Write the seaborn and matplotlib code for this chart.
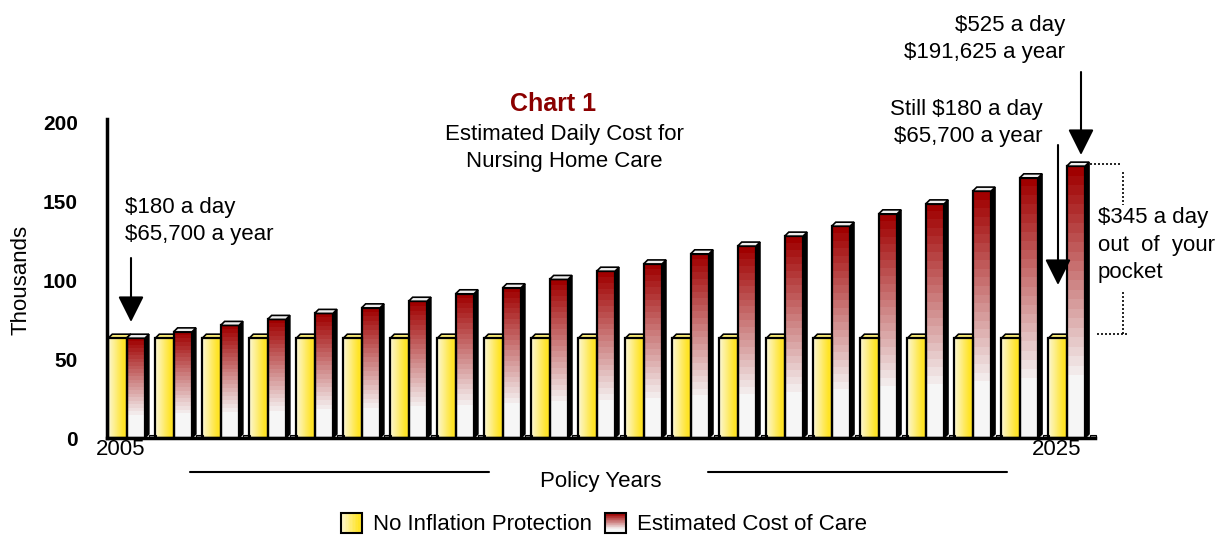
import numpy as np
import pandas as pd
import matplotlib
matplotlib.use("Agg")
import matplotlib.pyplot as plt
import matplotlib.transforms as mtransforms
import seaborn as sns
from matplotlib.patches import Polygon, Rectangle, Patch
from matplotlib.lines import Line2D
from matplotlib.legend_handler import HandlerBase

# data (thousands of dollars per year)
years = [str(y) for y in range(2005, 2026)]
no_inflation = [65.7, 65.7, 65.7, 65.7, 65.7, 65.7, 65.7, 65.7, 65.7, 65.7, 65.7,
                65.7, 65.7, 65.7, 65.7, 65.7, 65.7, 65.7, 65.7, 65.7, 65.7]
cost_of_care = [65.7, 69.7, 73.8, 77.6, 81.4, 84.9, 89.1, 93.8, 97.6, 102.9, 108.1,
                112.7, 119.1, 124.0, 130.3, 136.6, 144.4, 150.7, 158.8, 167.2, 174.6]
series_names = ["No Inflation Protection", "Estimated Cost of Care"]
y_ticks = [0, 50, 100, 150, 200]

df = pd.DataFrame({
    "year": years * 2,
    "value": no_inflation + cost_of_care,
    "series": [series_names[0]] * len(years) + [series_names[1]] * len(years),
})

sns.set_theme(style="white")
plt.rcParams["font.family"] = ["Liberation Sans", "DejaVu Sans"]
plt.rcParams["text.color"] = "black"
plt.rcParams["axes.labelcolor"] = "black"
plt.rcParams["ytick.color"] = "black"

FS = 16
W, H = 1223, 538
fig = plt.figure(figsize=(W / 100, H / 100), dpi=100)
ax = fig.add_axes([107 / W, 1 - 438 / H, 988 / W, 319 / H])

sns.barplot(data=df, x="year", y="value", hue="series", hue_order=series_names,
            palette=["#ffe633", "#a00000"], width=0.78, saturation=1, errorbar=None,
            edgecolor="black", linewidth=1.6, legend=False, ax=ax)

xlim = (-0.417, 20.6)
ylim = (0, 201.9)
ax.set_xlim(*xlim)
ax.set_ylim(*ylim)

# 3d offsets in data units
dx = 4 * (xlim[1] - xlim[0]) / 988
dy = 4 * (ylim[1] - ylim[0]) / 319

# gradients
n_rows = 200
red_top = np.array([160, 0, 0]) / 255
red_bot = np.array([246, 246, 246]) / 255
t = np.arange(n_rows) / n_rows
band = np.minimum(np.floor(t / 0.77 * 22) / 22, 1.0)
red_grad = (red_top + (red_bot - red_top) * band[:, None])[:, None, :]

n_cols = 60
yel_left = np.array([252, 247, 214]) / 255
yel_right = np.array([255, 228, 40]) / 255
s = np.minimum(np.arange(n_cols) / (n_cols * 0.8), 1.0)
yel_grad = (yel_left + (yel_right - yel_left) * s[:, None])[None, :, :]

styles = [(yel_grad, "#fff07a", 1.5), (red_grad, "#eeeeee", 3.5)]
for cont, (grad, top_col, z) in zip(ax.containers, styles):
    for p in cont.patches:
        x0, w, h = p.get_x(), p.get_width(), p.get_height()
        hf = h - dy
        p.set_height(hf)
        p.set_facecolor("none")
        p.set_zorder(3)
        im = ax.imshow(grad, extent=(x0, x0 + w, 0, hf), aspect="auto",
                       interpolation="nearest", zorder=2)
        im.set_clip_path(p)
        x1 = x0 + w
        ax.add_patch(Polygon([(x1, 0), (x1 + dx, dy), (x1 + dx, hf + dy), (x1, hf)],
                             closed=True, facecolor="black", edgecolor="black",
                             lw=1.0, zorder=z))
        ax.add_patch(Polygon([(x0, hf), (x0 + dx, hf + dy), (x1 + dx, hf + dy), (x1, hf)],
                             closed=True, facecolor=top_col, edgecolor="black",
                             lw=1.2, zorder=z + 0.2))

# small floor blocks between the groups
for p in ax.containers[1].patches:
    x1 = p.get_x() + p.get_width()
    ax.add_patch(Rectangle((x1 + dx + 0.01, 0), 0.14, 1.6, facecolor="#8c8c8c",
                           edgecolor="black", lw=0.8, zorder=2.5, clip_on=False))

ax.set_xlim(*xlim)
ax.set_ylim(*ylim)
ax.set_xticks([])
ax.set_xlabel("")
ax.set_yticks(y_ticks)
ax.tick_params(axis="y", length=0, pad=21, labelsize=15)
for lab in ax.get_yticklabels():
    lab.set_fontweight("bold")
ax.set_ylabel("Thousands", fontsize=FS)
ax.yaxis.set_label_coords(-0.076, 0.495)
for side in ["top", "right"]:
    ax.spines[side].set_visible(False)
for side in ["left", "bottom"]:
    ax.spines[side].set_linewidth(2.5)
    ax.spines[side].set_color("black")


def fx(x):
    return x / W


def fy(y):
    return 1 - y / H


LS = 1.38

# x axis texts
fig.text(fx(121), fy(455), "2005", ha="center", va="baseline", fontsize=FS)
fig.text(fx(1057), fy(455), "2025", ha="center", va="baseline", fontsize=FS)
fig.text(fx(601), fy(481), "Policy Years", ha="center", va="center", fontsize=FS)
fig.add_artist(Line2D([fx(190), fx(489)], [fy(472), fy(472)], color="black", lw=1.5))
fig.add_artist(Line2D([fx(708), fx(1007)], [fy(472), fy(472)], color="black", lw=1.5))

# title
fig.text(fx(553), fy(104), "Chart 1", ha="center", va="center", fontsize=18,
         fontweight="bold", color="#8b0000")
fig.text(fx(564), fy(148), "Estimated Daily Cost for\nNursing Home Care", ha="center",
         va="center", fontsize=FS, linespacing=LS)

# annotations
fig.text(fx(125), fy(221), "$180 a day\n$65,700 a year", ha="left", va="center",
         fontsize=FS, linespacing=LS)
fig.text(fx(1043), fy(123), "Still $180 a day\n$65,700 a year", ha="right", va="center",
         fontsize=FS, linespacing=LS, multialignment="right")
fig.text(fx(1065), fy(39), "$525 a day\n$191,625 a year", ha="right", va="center",
         fontsize=FS, linespacing=LS, multialignment="right")
fig.text(fx(1098), fy(245), "$345 a day\nout  of  your\npocket", ha="left", va="center",
         fontsize=FS, linespacing=LS)

arrow_style = dict(arrowstyle="-|>,head_length=1.6,head_width=0.8", color="black",
                   lw=1.5, mutation_scale=10, shrinkA=0, shrinkB=0)
for (x, y0, y1) in [(131, 258, 322), (1058, 145, 285), (1081, 72, 155)]:
    ax.annotate("", xy=(x, H - y1), xycoords="figure pixels",
                xytext=(x, H - y0), textcoords="figure pixels",
                arrowprops=arrow_style, annotation_clip=False)

# dimension lines for the out of pocket gap
bt = mtransforms.blended_transform_factory(ax.transAxes, ax.transData)
top_val, bot_val = cost_of_care[-1], no_inflation[-1]
dim = dict(color="black", lw=1.2, ls=(0, (1.2, 1.2)), transform=bt, clip_on=False)
ax.add_line(Line2D([0.995, 1.025], [top_val - 1, top_val - 1], **dim))
ax.add_line(Line2D([1.002, 1.032], [bot_val, bot_val], **dim))
ax.add_line(Line2D([1.028, 1.028], [top_val - 6, 147.5], **dim))
ax.add_line(Line2D([1.028, 1.028], [92.4, bot_val], **dim))


# legend with gradient swatches
class GradientHandler(HandlerBase):
    def __init__(self, colors, horizontal):
        super().__init__()
        self.colors = colors
        self.horizontal = horizontal

    def create_artists(self, legend, orig_handle, xdescent, ydescent, width, height,
                       fontsize, trans):
        arts = []
        n = len(self.colors)
        for i, c in enumerate(self.colors):
            if self.horizontal:
                r = Rectangle((-xdescent + i * width / n, -ydescent), width / n, height,
                              facecolor=c, edgecolor="none")
            else:
                r = Rectangle((-xdescent, -ydescent + height - (i + 1) * height / n),
                              width, height / n, facecolor=c, edgecolor="none")
            r.set_transform(trans)
            arts.append(r)
        outline = Rectangle((-xdescent, -ydescent), width, height, facecolor="none",
                            edgecolor="black", lw=1.5)
        outline.set_transform(trans)
        arts.append(outline)
        return arts


h_yel = Patch()
h_red = Patch()
yel_cols = [tuple(c) for c in yel_grad[0, ::4]]
red_cols = [tuple(c) for c in red_grad[::10, 0]]
fig.legend(handles=[h_yel, h_red], labels=series_names,
           handler_map={h_yel: GradientHandler(yel_cols, True),
                        h_red: GradientHandler(red_cols, False)},
           loc="center", bbox_to_anchor=(fx(604), fy(524)), ncol=2, frameon=False,
           fontsize=FS, handlelength=0.95, handleheight=1.0, handletextpad=0.5,
           columnspacing=0.6, borderpad=0)

fig.savefig("out.png", dpi=100, facecolor="white")
